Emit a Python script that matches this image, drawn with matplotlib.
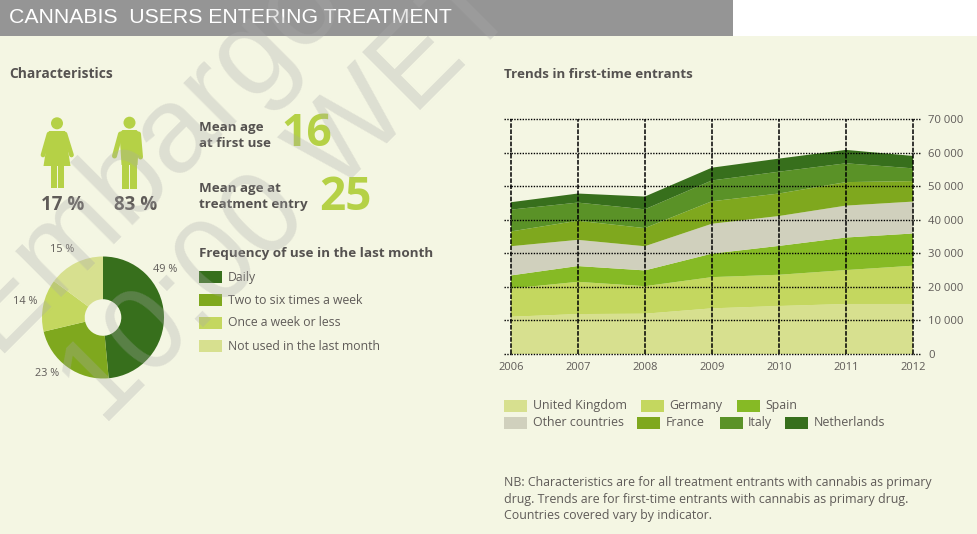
import matplotlib
matplotlib.use("Agg")
import matplotlib.pyplot as plt
from matplotlib.patches import Rectangle, Circle, Polygon

years = [2006, 2007, 2008, 2009, 2010, 2011, 2012]
countries = ["United Kingdom", "Germany", "Spain", "Other countries", "France", "Italy", "Netherlands"]
uk = [11100, 11900, 12000, 13600, 14300, 14900, 14900]
germany = [8400, 9600, 8200, 9300, 9300, 10100, 11400]
spain = [3900, 4700, 4700, 7000, 8600, 9700, 9600]
other = [8700, 7800, 7200, 8900, 8900, 9500, 9500]
france = [4400, 5700, 5400, 6700, 6700, 7000, 6100]
italy = [6500, 5400, 5600, 6200, 6500, 5600, 3800]
netherlands = [2200, 2700, 3800, 3800, 3900, 4000, 3700]
series = [uk, germany, spain, other, france, italy, netherlands]
y_ticks = [0, 10000, 20000, 30000, 40000, 50000, 60000, 70000]
y_labels = ["0", "10 000", "20 000", "30 000", "40 000", "50 000", "60 000", "70 000"]

freq_labels = ["Daily", "Two to six times a week", "Once a week or less", "Not used in the last month"]
freq_values = [49, 23, 14, 15]

W, H = 977, 534
BG = "#f4f6e3"
TXT = "#5f5b58"
HEAD = "#555250"
LIME = "#b5d146"
AREA_COLS = ["#d7e08f", "#c4d75f", "#86ba25", "#d0d0bd", "#7fa81e", "#5a9227", "#376f1c"]
FREQ_COLS = ["#376f1c", "#7fa81e", "#c4d75f", "#d7e08f"]

plt.rcParams["font.family"] = ["Open Sans", "DejaVu Sans"]

fig = plt.figure(figsize=(W / 100, H / 100), dpi=100, facecolor=BG)

# pixel canvas for everything that isn't a real chart
bg = fig.add_axes([0, 0, 1, 1])
bg.set_xlim(0, W)
bg.set_ylim(H, 0)
bg.axis("off")
bg.add_patch(Rectangle((0, 0), W, 36, fc="white", ec="none"))
bg.add_patch(Rectangle((0, 0), 733, 36, fc="#959595", ec="none"))
bg.text(9, 17.5, "CANNABIS  USERS ENTERING TREATMENT", color="white", fontsize=15.3, va="center",
        family=["Liberation Sans"])
bg.text(9, 74, "Characteristics", color=HEAD, fontsize=9.9, fontweight="bold", va="center")
bg.text(504, 74, "Trends in first-time entrants", color=HEAD, fontsize=9.6, fontweight="bold", va="center")


def woman(ax, cx):
    ax.add_patch(Circle((cx, 123.3), 6, fc=LIME, ec="none"))
    ax.add_patch(Polygon([(cx - 8, 131), (cx + 8, 131), (cx + 13.5, 166), (cx - 13.5, 166)], fc=LIME, ec="none"))
    ax.add_patch(Rectangle((cx - 6.3, 166), 6, 22, fc=LIME, ec="none"))
    ax.add_patch(Rectangle((cx + 1, 166), 6, 22, fc=LIME, ec="none"))
    ax.plot([cx - 8, cx - 14], [134, 155], color=LIME, lw=3.4, solid_capstyle="round")
    ax.plot([cx + 8, cx + 14.5], [134, 155], color=LIME, lw=3.4, solid_capstyle="round")


def man(ax, cx):
    ax.add_patch(Circle((cx, 122.7), 6, fc=LIME, ec="none"))
    ax.add_patch(Polygon([(cx - 7, 130), (cx + 7, 130), (cx + 10, 133), (cx + 8, 165), (cx - 8, 165), (cx - 10, 133)],
                         fc=LIME, ec="none"))
    ax.add_patch(Rectangle((cx - 7.5, 164), 7, 25, fc=LIME, ec="none"))
    ax.add_patch(Rectangle((cx + 0.8, 164), 7, 25, fc=LIME, ec="none"))
    ax.plot([cx - 9, cx - 15], [134, 156], color=LIME, lw=3.6, solid_capstyle="round")
    ax.plot([cx + 9, cx + 11], [134, 157], color=LIME, lw=3.6, solid_capstyle="round")


woman(bg, 57)
man(bg, 129.5)
bg.text(63, 205, "17 %", color=TXT, fontsize=13.5, fontweight="bold", ha="center", va="center")
bg.text(135.5, 205, "83 %", color=TXT, fontsize=13.5, fontweight="bold", ha="center", va="center")

bg.text(199, 135.5, "Mean age\nat first use", color=HEAD, fontsize=9.6, fontweight="bold", va="center", linespacing=1.22)
bg.text(199, 196.5, "Mean age at\ntreatment entry", color=HEAD, fontsize=9.6, fontweight="bold", va="center", linespacing=1.22)
bg.text(307, 135, "16", color=LIME, fontsize=32, fontweight="bold", ha="center", va="center")
bg.text(345.5, 197, "25", color=LIME, fontsize=33, fontweight="bold", ha="center", va="center")

bg.text(199, 253, "Frequency of use in the last month", color=HEAD, fontsize=9.7, fontweight="bold", va="center")
for i, lab in enumerate(freq_labels):
    y0 = 271 + i * 23
    bg.add_patch(Rectangle((199, y0), 23, 12, fc=FREQ_COLS[i], ec="none"))
    bg.text(228, y0 + 6, lab, color=TXT, fontsize=8.8, va="center")

# doughnut
pie_ax = fig.add_axes([42 / W, 1 - 378.5 / H, 122 / W, 122 / H])
pie_ax.pie(freq_values, colors=FREQ_COLS, startangle=90, counterclock=False, radius=1,
           wedgeprops=dict(width=0.7, linewidth=0))
pie_ax.set_xlim(-1, 1)
pie_ax.set_ylim(-1, 1)
bg.text(165.5, 270, "49 %", color=TXT, fontsize=7.8, ha="center", va="center")
bg.text(47, 373, "23 %", color=TXT, fontsize=7.8, ha="center", va="center")
bg.text(25.5, 301, "14 %", color=TXT, fontsize=7.8, ha="center", va="center")
bg.text(62.5, 249, "15 %", color=TXT, fontsize=7.8, ha="center", va="center")

# stacked area
ax = fig.add_axes([510.7 / W, 1 - 354 / H, 402.3 / W, 235 / H])
ax.patch.set_alpha(0)
ax.stackplot(years, *series, colors=AREA_COLS, linewidth=0)
ax.set_xlim(2006, 2012)
ax.set_ylim(0, 70000)
for s in ax.spines.values():
    s.set_visible(False)
ax.yaxis.tick_right()
ax.set_yticks(y_ticks, y_labels)
ax.set_xticks(years, [str(y) for y in years])
ax.tick_params(axis="both", length=0, labelcolor=TXT)
ax.tick_params(axis="y", pad=11, labelsize=8.1)
ax.tick_params(axis="x", pad=5.5, labelsize=8)
ax.grid(True, axis="y", color="black", lw=1, ls=(0, (1, 1)))
ax.grid(True, axis="x", color="black", lw=1.1, ls=(0, (3, 1)))
ax.set_axisbelow(False)
for gl in ax.get_xgridlines() + ax.get_ygridlines():
    gl.set_clip_on(False)
# dotted lines stick out a bit on both sides of the plot
for v in y_ticks:
    y_px = 354 - v * 235 / 70000
    bg.plot([504, 510.7], [y_px, y_px], color="black", lw=1, ls=(0, (1, 1)))
    bg.plot([913, 921], [y_px, y_px], color="black", lw=1, ls=(0, (1, 1)))

# area legend, two rows as in the original
legend_x = [504, 641, 737, 504, 637, 720, 785]
legend_tx = [533, 669, 765, 533, 666, 748, 814]
legend_y = [400, 400, 400, 417, 417, 417, 417]
for i, name in enumerate(countries):
    bg.add_patch(Rectangle((legend_x[i], legend_y[i]), 22.5, 11.5, fc=AREA_COLS[i], ec="none"))
    bg.text(legend_tx[i], legend_y[i] + 5.5, name, color=TXT, fontsize=8.9, va="center")

bg.text(504, 499, "NB: Characteristics are for all treatment entrants with cannabis as primary\n"
        "drug. Trends are for first-time entrants with cannabis as primary drug.\n"
        "Countries covered vary by indicator.", color=TXT, fontsize=8.95, va="center", linespacing=1.36)

# watermark on top of everything
over = fig.add_axes([0, 0, 1, 1], zorder=10)
over.set_xlim(0, W)
over.set_ylim(H, 0)
over.axis("off")
over.text(148, 155, "Embargo", color="#aaaaaa", alpha=0.3, fontsize=88, rotation=45, ha="center", va="center",
          family=["Liberation Sans"], clip_on=True)
over.text(290, 197, "10:00 WET", color="#aaaaaa", alpha=0.3, fontsize=85, rotation=45, ha="center", va="center",
          family=["Liberation Sans"], clip_on=True)

fig.savefig("out.png", dpi=100, facecolor=BG)
